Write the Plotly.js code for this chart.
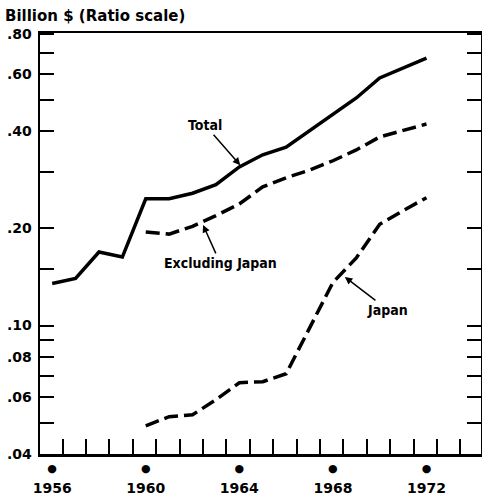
<!DOCTYPE html>
<html>
<head>
<meta charset="utf-8">
<script src="https://cdn.plot.ly/plotly-3.0.1.min.js"></script>
<style>html,body{margin:0;padding:0;background:#fff}#chart{width:482px;height:496px}</style>
</head>
<body>
<div id="chart"></div>
<script>
// ---- data (billion $) ----
const years = [1956,1957,1958,1959,1960,1961,1962,1963,1964,1965,1966,1967,1968,1969,1970,1971,1972];
const total = [0.135,0.140,0.169,0.163,0.247,0.247,0.257,0.273,0.310,0.338,0.357,0.401,0.452,0.507,0.585,0.628,0.674];
const exYears = [1960,1961,1962,1963,1964,1965,1966,1967,1968,1969,1970,1971,1972];
const excludingJapan = [0.195,0.192,0.203,0.219,0.238,0.269,0.287,0.303,0.324,0.350,0.384,0.401,0.421];
const japan = [0.0489,0.0522,0.0529,0.0589,0.0665,0.0670,0.0709,0.0984,0.136,0.162,0.206,0.227,0.249];
const yTickVals = [0.04,0.05,0.06,0.07,0.08,0.09,0.10,0.15,0.20,0.30,0.40,0.50,0.60,0.70,0.80];
const yTickText = ['.04','','.06','','.08','','.10','','.20','','.40','','.60','','.80'];
const labelYears = [1956,1960,1964,1968,1972];
const titleText = 'Billion $ (Ratio scale)';

const xRange = [1955.48, 1974.33];
const yRange = [Math.log10(0.04), Math.log10(0.806)];
const tickMarks = [];
for (let y = 1956; y <= 1973; y++) tickMarks.push(y + 0.45);

const bold = {family: 'DejaVu Sans', size: 14, color: '#000', weight: 'bold'};
const narrow = {family: '"DejaVu Sans Condensed", "Liberation Sans Narrow", sans-serif', size: 14, color: '#000', weight: 'bold'};

const traces = [
  {x: years, y: total, type: 'scatter', mode: 'lines', xaxis: 'x', yaxis: 'y',
   line: {color: '#000', width: 3.5}, hoverinfo: 'skip'},
  {x: exYears, y: excludingJapan, type: 'scatter', mode: 'lines', xaxis: 'x2', yaxis: 'y',
   line: {color: '#000', width: 3.5, dash: '14px,6px'}, hoverinfo: 'skip'},
  {x: exYears, y: japan, type: 'scatter', mode: 'lines', xaxis: 'x3', yaxis: 'y',
   line: {color: '#000', width: 3.5, dash: '14px,6px'}, hoverinfo: 'skip'}
];

const layout = {
  width: 482, height: 496,
  margin: {l: 40, r: 1, t: 33, b: 42},
  paper_bgcolor: '#fff', plot_bgcolor: '#fff',
  showlegend: false,
  title: {text: titleText, font: {family: 'DejaVu Sans', size: 15, color: '#000', weight: 'bold'},
          xref: 'container', yref: 'container', x: 5/482, xanchor: 'left', y: 1 - 16/496, yanchor: 'middle'},
  xaxis: {range: xRange, tickvals: tickMarks, ticks: 'inside', ticklen: 15, tickwidth: 2, tickcolor: '#000',
          showticklabels: false, showline: true, linewidth: 2.5, linecolor: '#000', mirror: true,
          showgrid: false, zeroline: false, fixedrange: true},
  xaxis2: {overlaying: 'x', anchor: 'y', side: 'bottom', range: xRange, tickvals: labelYears,
           ticktext: labelYears.map(() => '●'), ticks: '', showline: false, showgrid: false, zeroline: false,
           tickfont: {family: 'DejaVu Sans', size: 11, color: '#000'}, ticklabelstandoff: 6},
  xaxis3: {overlaying: 'x', anchor: 'y', side: 'bottom', range: xRange, tickvals: labelYears,
           ticktext: labelYears.map(String), ticks: '', showline: false, showgrid: false, zeroline: false,
           tickfont: bold, ticklabelstandoff: 24},
  yaxis: {type: 'log', range: yRange, tickvals: yTickVals, ticktext: yTickText,
          ticks: 'inside', ticklen: 14, tickwidth: 2, tickcolor: '#000',
          showline: true, linewidth: 2.5, linecolor: '#000', mirror: 'ticks',
          showgrid: false, zeroline: false, tickfont: bold, ticklabelstandoff: 3},
  annotations: [
    {text: 'Total', x: 1964.04, y: Math.log10(0.314), xref: 'x', yref: 'y', ax: -35, ay: -40,
     showarrow: true, arrowhead: 2, arrowsize: 1, arrowwidth: 1.5, arrowcolor: '#000', standoff: 0, font: narrow},
    {text: 'Excluding Japan', x: 1962.45, y: Math.log10(0.205), xref: 'x', yref: 'y', ax: 17, ay: 38,
     showarrow: true, arrowhead: 2, arrowsize: 1, arrowwidth: 1.5, arrowcolor: '#000', standoff: 0, font: narrow},
    {text: 'Japan', x: 1968.51, y: Math.log10(0.1415), xref: 'x', yref: 'y', ax: 43, ay: 33,
     showarrow: true, arrowhead: 2, arrowsize: 1, arrowwidth: 1.5, arrowcolor: '#000', standoff: 0, font: narrow}
  ]
};

Plotly.newPlot('chart', traces, layout, {staticPlot: true, displayModeBar: false});
</script>
</body>
</html>
